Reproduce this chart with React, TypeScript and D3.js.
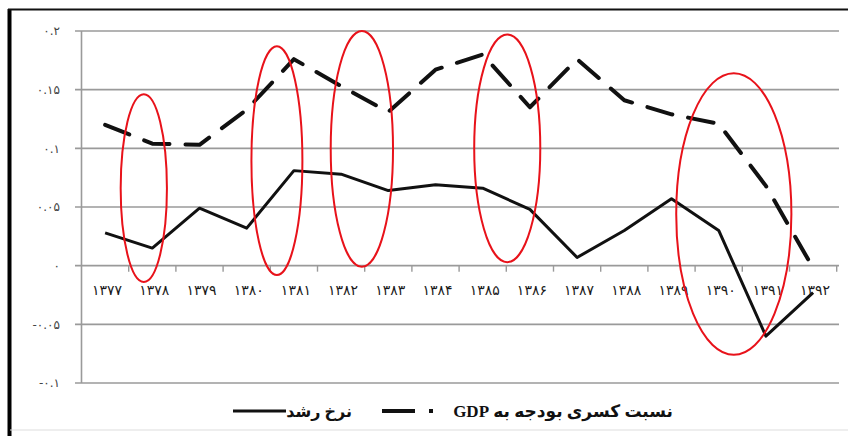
import React from "react";
import * as d3 from "d3";

// years on the x axis (Persian calendar)
const years = ["۱۳۷۷", "۱۳۷۸", "۱۳۷۹", "۱۳۸۰", "۱۳۸۱", "۱۳۸۲", "۱۳۸۳", "۱۳۸۴",
  "۱۳۸۵", "۱۳۸۶", "۱۳۸۷", "۱۳۸۸", "۱۳۸۹", "۱۳۹۰", "۱۳۹۱", "۱۳۹۲"];

// growth rate (solid line)
const growth = [0.028, 0.015, 0.049, 0.032, 0.081, 0.078, 0.064, 0.069,
  0.066, 0.048, 0.007, 0.030, 0.057, 0.030, -0.060, -0.023];

// budget deficit to GDP (dashed line)
const deficit = [0.120, 0.104, 0.103, 0.133, 0.176, 0.153, 0.131, 0.167,
  0.180, 0.135, 0.176, 0.141, 0.129, 0.121, 0.068, -0.002];

const yTicks = [0.2, 0.15, 0.1, 0.05, 0, -0.05, -0.1];
const yTickLabels = ["۰.۲", "۰.۱۵", "۰.۱", "۰.۰۵", "۰", "-۰.۰۵", "-۰.۱"];

// red ellipses: centre as band index, half width in bands, top / bottom in data units
const marks = [
  { at: 0.82, half: 0.49, top: 0.146, bottom: -0.014 },
  { at: 3.64, half: 0.54, top: 0.187, bottom: -0.008 },
  { at: 5.44, half: 0.66, top: 0.2, bottom: -0.001 },
  { at: 8.52, half: 0.7, top: 0.197, bottom: 0.003 },
  { at: 13.32, half: 1.22, top: 0.164, bottom: -0.076 },
];

const legendSolid = "نرخ رشد";
const legendDashed = "نسبت کسری بودجه به GDP";

export default function App() {
  const left = 81.5, right = 836.7, top = 31, bottom = 383;

  const x = d3.scaleBand().domain(years).range([left, right]).padding(0);
  const bw = x.bandwidth();
  const cx = (d) => x(d) + bw / 2;
  const y = d3.scaleLinear().domain([-0.1, 0.2]).range([bottom, top]);
  const xi = (i) => left + bw * (i + 0.5);

  const line = d3.line().x((d) => cx(d[0])).y((d) => y(d[1]));
  const solidPath = line(years.map((d, i) => [d, growth[i]]));
  const dashPath = line(years.map((d, i) => [d, deficit[i]]));

  const font = "'DejaVu Sans', sans-serif";
  const legendFont = "'Liberation Serif', 'DejaVu Sans', serif";

  return (
    <svg width={848} height={436} style={{ position: "absolute", left: 0, top: 0, background: "#fff" }}>
      {/* frame */}
      <line x1={9.5} y1={9} x2={9.5} y2={436} stroke="#000" strokeWidth={4} />
      <line x1={8} y1={9.5} x2={848} y2={9.5} stroke="#111" strokeWidth={2} />
      <line x1={10} y1={430} x2={848} y2={430} stroke="#ddd" strokeWidth={1} />

      {/* grid */}
      {yTicks.map((t) => (
        <line key={"g" + t} x1={75} x2={839} y1={y(t)} y2={y(t)} stroke="#9a9a9a" strokeWidth={1.6} />
      ))}
      <line x1={left} x2={left} y1={top} y2={bottom} stroke="#9a9a9a" strokeWidth={1.6} />
      {yTickLabels.map((t, i) => (
        <text key={"yl" + i} x={60} y={y(yTicks[i])} dy="0.35em" textAnchor="end" fontFamily={font} fontSize={12} fill="#444" direction="ltr">
          {t}
        </text>
      ))}

      {/* x ticks + labels */}
      {years.map((d) => (
        <line key={"t" + d} x1={x(d) + bw} x2={x(d) + bw} y1={y(0)} y2={y(0) + 6} stroke="#9a9a9a" strokeWidth={1.4} />
      ))}
      {years.map((d) => (
        <text key={"xl" + d} x={cx(d) + 2} y={290} dy="0.35em" textAnchor="middle" fontFamily={font} fontSize={14} fill="#1a1a1a">
          {d}
        </text>
      ))}

      {/* series */}
      <path d={dashPath} fill="none" stroke="#111" strokeWidth={4} strokeDasharray="26 16" strokeLinecap="round" strokeLinejoin="round" />
      <path d={solidPath} fill="none" stroke="#111" strokeWidth={3} strokeLinejoin="round" />

      {/* highlight ellipses */}
      {marks.map((m, i) => (
        <ellipse key={"e" + i} cx={xi(m.at)} cy={(y(m.top) + y(m.bottom)) / 2} rx={m.half * bw} ry={(y(m.bottom) - y(m.top)) / 2}
          fill="none" stroke="#e8121a" strokeWidth={2} />
      ))}

      {/* legend */}
      <line x1={233} x2={286} y1={411} y2={411} stroke="#111" strokeWidth={3} />
      <text x={352} y={411} dy="0.35em" textAnchor="start" fontFamily={legendFont} fontWeight="bold" fontSize={16} fill="#111" direction="rtl">{legendSolid}</text>
      <line x1={382} x2={415} y1={411} y2={411} stroke="#111" strokeWidth={4} />
      <line x1={429} x2={433} y1={411} y2={411} stroke="#111" strokeWidth={4} />
      <text x={673} y={411} dy="0.35em" textAnchor="start" fontFamily={legendFont} fontWeight="bold" fontSize={17} fill="#111" direction="rtl">{legendDashed}</text>
    </svg>
  );
}
